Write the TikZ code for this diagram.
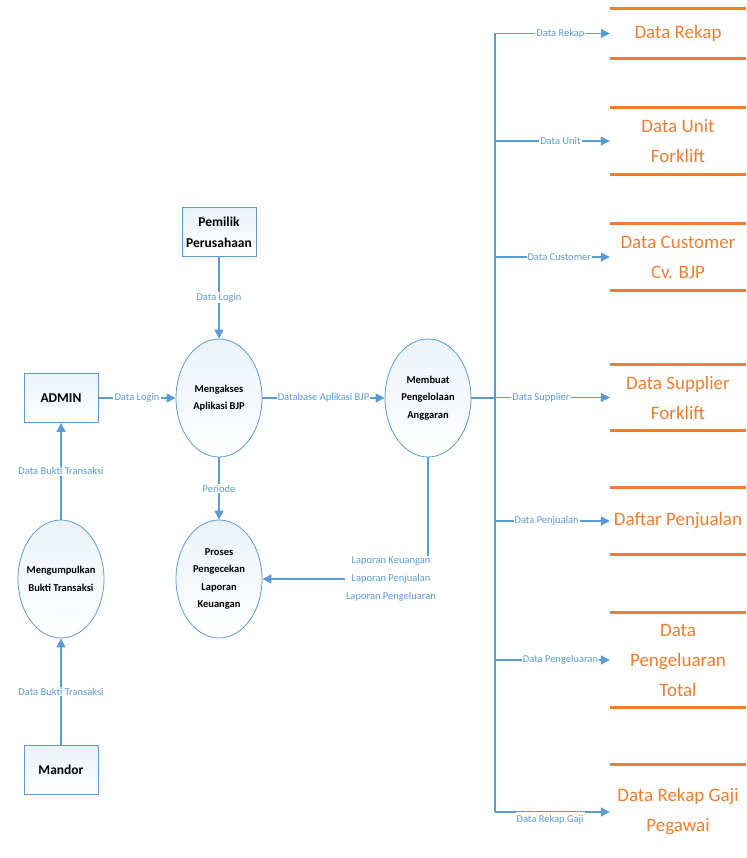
\documentclass[tikz,border=0pt]{standalone}
\usepackage{fontspec}
\setmainfont{Carlito}
\usetikzlibrary{arrows.meta,positioning,shapes.geometric}
\definecolor{flowblue}{RGB}{91,155,213}
\definecolor{storeorange}{RGB}{237,125,49}

\begin{document}
\begin{tikzpicture}[x=1pt, y=-1pt,
  entity/.style={draw=flowblue, line width=0.8pt, top color=flowblue!12, bottom color=white, minimum width=74pt, minimum height=49pt, align=center, font=\fontsize{13.5}{21}\selectfont\bfseries},
  process/.style={ellipse, draw=flowblue, line width=0.8pt, top color=flowblue!12, bottom color=white, minimum width=86pt, minimum height=118pt, inner xsep=-10pt, inner ysep=0pt, align=center, font=\fontsize{10.5}{17.5}\selectfont\bfseries},
  flow/.style={draw=flowblue, line width=1.1pt, -{Triangle[length=9pt,width=9pt]}},
  flowlabel/.style={fill=white, inner sep=1pt, text=flowblue, align=center, font=\fontsize{10.5}{18}\selectfont},
  store/.style={minimum width=136pt, inner sep=0pt, align=center, text=storeorange, font=\fontsize{19}{30}\selectfont},
  storeline/.style={draw=storeorange, line width=3pt}]
\useasboundingbox (0,0) rectangle (746,858);

% External entities
\node[entity] (pemilik) at (219,232) {Pemilik\\Perusahaan};
\node[entity] (admin) at (61,398) {ADMIN};
\node[entity] (mandor) at (61,770) {Mandor};

% Processes
\node[process] (akses) at (219,398) {Mengakses\\Aplikasi BJP};
\node[process] (cek) at (219,579) {Proses\\Pengecekan\\Laporan\\Keuangan};
\node[process] (kumpul) at (61,579) {Mengumpulkan\\Bukti Transaksi};
\node[process] (anggaran) at (428,398) {Membuat\\Pengelolaan\\Anggaran};

% Data stores
\node[store, minimum height=49pt] (rekap) at (678,33.5) {Data Rekap};
\node[store, minimum height=66pt] (unit) at (678,141) {Data Unit\\Forklift};
\node[store, minimum height=66pt] (customer) at (678,257) {Data Customer\\Cv. BJP};
\node[store, minimum height=66pt] (supplier) at (678,397.5) {Data Supplier\\Forklift};
\node[store, minimum height=66pt] (penjualan) at (678,521) {Daftar Penjualan};
\node[store, minimum height=94pt] (pengeluaran) at (678,660) {Data\\Pengeluaran\\Total};
\node[store, minimum height=94pt] (gaji) at (678,812) {Data Rekap Gaji\\Pegawai};
\foreach \s in {rekap,unit,customer,supplier,penjualan,pengeluaran}
  \draw[storeline] (\s.north west) -- (\s.north east) (\s.south west) -- (\s.south east);
\draw[storeline] (gaji.north west) -- (gaji.north east);

% Flows on the left
\draw[flow] (pemilik) -- node[flowlabel] {Data Login} (akses);
\draw[flow] (admin) -- node[flowlabel] {Data Login} (akses);
\draw[flow] (kumpul) -- node[flowlabel] {Data Bukti Transaksi} (admin);
\draw[flow] (mandor) -- node[flowlabel] {Data Bukti Transaksi} (kumpul);
\draw[flow] (akses) -- node[flowlabel] {Periode} (cek);
\draw[flow] (akses) -- node[flowlabel] {Database Aplikasi BJP} (anggaran);
\draw[flow] (anggaran.south) |- node[flowlabel, pos=0.5, xshift=-37pt] {Laporan Keuangan\\Laporan Penjualan\\Laporan Pengeluaran} (cek.east);

% Bus to the data stores
\coordinate (bustop) at (495,33);
\coordinate (busbottom) at (495,812);
\draw[draw=flowblue, line width=1.6pt] (bustop) -- (busbottom);
\draw[draw=flowblue, line width=2.4pt] (anggaran.east) -- (anggaran.east -| bustop);
\foreach \s/\t/\p in {rekap/Data Rekap/0.57, unit/Data Unit/0.57, customer/Data Customer/0.56, supplier/Data Supplier/0.40, penjualan/Data Penjualan/0.45, pengeluaran/Data Pengeluaran/0.57}
  \draw[flow] (bustop |- \s.west) -- node[flowlabel, pos=\p] {\t} (\s.west);
\draw[flow] (bustop |- gaji.west) -- node[flowlabel, pos=0.48, yshift=-8pt, inner ysep=3pt] {Data Rekap Gaji} (gaji.west);
\end{tikzpicture}
\end{document}
